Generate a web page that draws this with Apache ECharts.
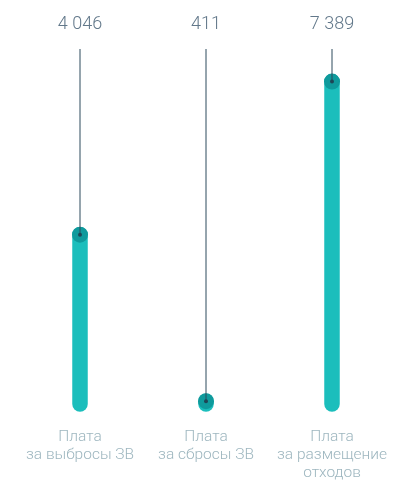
<!DOCTYPE html>
<html><head><meta charset="utf-8">
<script src="https://cdn.jsdelivr.net/npm/echarts@6/dist/echarts.min.js"></script>
<style>html,body{margin:0;padding:0;background:#fff}#c{width:395px;height:483px}</style>
</head><body><div id="c"></div>
<script>
const categories = ['Плата\nза выбросы ЗВ', 'Плата\nза сбросы ЗВ', 'Плата\nза размещение\nотходов'];
const values = [4046, 411, 7389];
const valueLabels = ['4 046', '411', '7 389'];
const axisMax = 8100;

const chart = echarts.init(document.getElementById('c'), null, {renderer: 'canvas'});
chart.setOption({
  animation: false,
  grid: {left: 17, width: 384, top: 49, bottom: 63},
  xAxis: [
    {type: 'category', data: categories, position: 'bottom',
     axisLine: {show: false}, axisTick: {show: false},
     axisLabel: {interval: 0, hideOverlap: false, margin: 8, color: '#9DB6BF', fontSize: 15.5, lineHeight: 18, fontFamily: 'Roboto', fontWeight: 300}},
    {type: 'category', data: valueLabels, position: 'top',
     axisLine: {show: false}, axisTick: {show: false},
     axisLabel: {interval: 0, margin: 16, color: '#62788A', fontSize: 18, fontFamily: 'Roboto', fontWeight: 300}}
  ],
  yAxis: {type: 'value', min: 0, max: axisMax, show: false, splitLine: {show: false}},
  series: [{
    type: 'custom',
    data: values.map((v, i) => [i, v]),
    renderItem: function (params, api) {
      const i = api.value(0), v = api.value(1);
      const p = api.coord([i, v]);
      const top = api.coord([i, axisMax]);
      const zero = api.coord([i, 0]);
      const bottomY = zero[1] - 16;
      return {
        type: 'group',
        children: [
          {type: 'line', shape: {x1: p[0], y1: bottomY, x2: p[0], y2: Math.min(p[1], bottomY - 0.5)},
           style: {stroke: '#1BBEBC', lineWidth: 15.5, lineCap: 'round'}},
          {type: 'circle', shape: {cx: p[0], cy: p[1], r: 8}, style: {fill: '#0F9A9C'}},
          {type: 'line', shape: {x1: p[0], y1: top[1], x2: p[0], y2: p[1]},
           style: {stroke: '#2C4A5C', lineWidth: 1}},
          {type: 'circle', shape: {cx: p[0], cy: p[1], r: 2}, style: {fill: '#1E4656'}}
        ]
      };
    }
  }]
});
</script></body></html>
